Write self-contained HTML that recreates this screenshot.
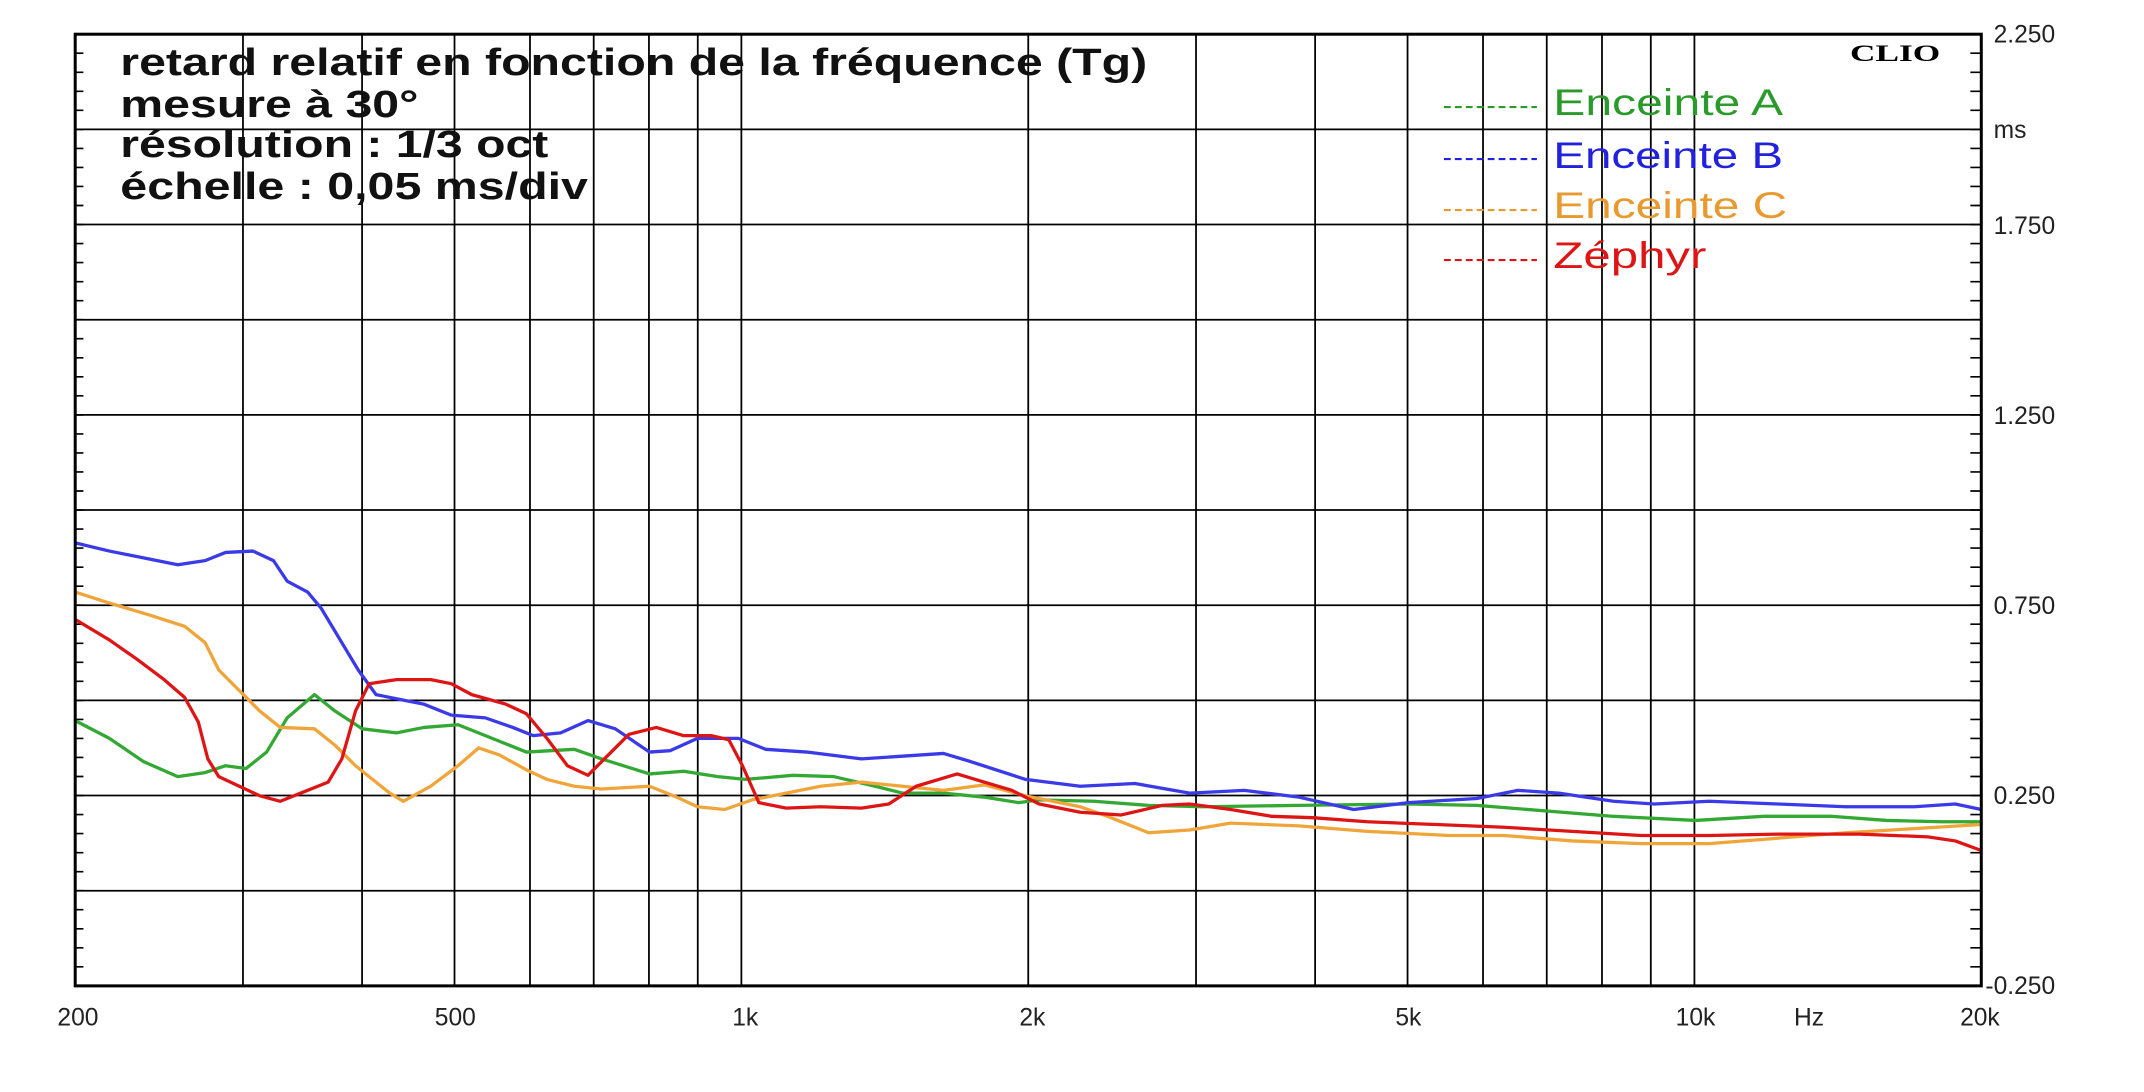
<!DOCTYPE html>
<html><head><meta charset="utf-8"><style>html,body{margin:0;padding:0;background:#fff}svg{display:block}</style></head>
<body>
<svg xmlns="http://www.w3.org/2000/svg" width="2144" height="1092" viewBox="0 0 1568 798.6">
<rect width="1568" height="798.6" fill="#fff"/>
<g stroke="#000" stroke-width="1.3" fill="none">
<line x1="177.7" y1="25" x2="177.7" y2="721"/>
<line x1="264.8" y1="25" x2="264.8" y2="721"/>
<line x1="332.4" y1="25" x2="332.4" y2="721"/>
<line x1="387.6" y1="25" x2="387.6" y2="721"/>
<line x1="434.2" y1="25" x2="434.2" y2="721"/>
<line x1="474.6" y1="25" x2="474.6" y2="721"/>
<line x1="510.3" y1="25" x2="510.3" y2="721"/>
<line x1="542.2" y1="25" x2="542.2" y2="721"/>
<line x1="752" y1="25" x2="752" y2="721"/>
<line x1="874.7" y1="25" x2="874.7" y2="721"/>
<line x1="961.8" y1="25" x2="961.8" y2="721"/>
<line x1="1029.4" y1="25" x2="1029.4" y2="721"/>
<line x1="1084.6" y1="25" x2="1084.6" y2="721"/>
<line x1="1131.2" y1="25" x2="1131.2" y2="721"/>
<line x1="1171.6" y1="25" x2="1171.6" y2="721"/>
<line x1="1207.3" y1="25" x2="1207.3" y2="721"/>
<line x1="1239.2" y1="25" x2="1239.2" y2="721"/>
<line x1="55" y1="94.6" x2="1449" y2="94.6"/>
<line x1="55" y1="164.2" x2="1449" y2="164.2"/>
<line x1="55" y1="233.8" x2="1449" y2="233.8"/>
<line x1="55" y1="303.4" x2="1449" y2="303.4"/>
<line x1="55" y1="373" x2="1449" y2="373"/>
<line x1="55" y1="442.6" x2="1449" y2="442.6"/>
<line x1="55" y1="512.2" x2="1449" y2="512.2"/>
<line x1="55" y1="581.8" x2="1449" y2="581.8"/>
<line x1="55" y1="651.4" x2="1449" y2="651.4"/>
</g>
<line x1="58" y1="24.4" x2="58" y2="721" stroke="#000" stroke-width="6" stroke-dasharray="1.2 12.72"/>
<line x1="1445" y1="24.4" x2="1445" y2="721" stroke="#000" stroke-width="8" stroke-dasharray="1.2 12.72"/>
<g font-family="Liberation Sans, Arial, sans-serif" font-weight="bold" font-size="28" fill="#111">
<text x="88" y="55" textLength="751" lengthAdjust="spacingAndGlyphs">retard relatif en fonction de la fréquence (Tg)</text>
<text x="88" y="85.6" textLength="218" lengthAdjust="spacingAndGlyphs">mesure à 30°</text>
<text x="88" y="114.8" textLength="313" lengthAdjust="spacingAndGlyphs">résolution : 1/3 oct</text>
<text x="88" y="145.5" textLength="342" lengthAdjust="spacingAndGlyphs">échelle : 0,05 ms/div</text>
</g>
<text x="1353" y="44.6" font-family="Liberation Serif, serif" font-weight="bold" font-size="17" textLength="66" lengthAdjust="spacingAndGlyphs" fill="#000">CLIO</text>
<g font-family="Liberation Sans, Arial, sans-serif" font-size="27">
<line x1="1056" y1="78.3" x2="1124" y2="78.3" stroke="#2a9a2a" stroke-width="1.5" stroke-dasharray="5,3"/>
<text x="1136" y="84.1" fill="#2a9a2a" textLength="168" lengthAdjust="spacingAndGlyphs">Enceinte A</text>
<line x1="1056" y1="116.3" x2="1124" y2="116.3" stroke="#2222dd" stroke-width="1.5" stroke-dasharray="5,3"/>
<text x="1136" y="122.9" fill="#2222dd" textLength="168" lengthAdjust="spacingAndGlyphs">Enceinte B</text>
<line x1="1056" y1="153.6" x2="1124" y2="153.6" stroke="#e89a30" stroke-width="1.5" stroke-dasharray="5,3"/>
<text x="1136" y="159.4" fill="#e89a30" textLength="171" lengthAdjust="spacingAndGlyphs">Enceinte C</text>
<line x1="1056" y1="190.2" x2="1124" y2="190.2" stroke="#dd1515" stroke-width="1.5" stroke-dasharray="5,3"/>
<text x="1136" y="196" fill="#dd1515" textLength="112" lengthAdjust="spacingAndGlyphs">Zéphyr</text>
</g>
<g font-family="Liberation Sans, Arial, sans-serif" font-size="18" fill="#222">
<text x="1458" y="31">2.250</text>
<text x="1458" y="101">ms</text>
<text x="1458" y="171">1.750</text>
<text x="1458" y="310">1.250</text>
<text x="1458" y="449">0.750</text>
<text x="1458" y="588">0.250</text>
<text x="1452" y="727">-0.250</text>
</g>
<g font-family="Liberation Sans, Arial, sans-serif" font-size="18" fill="#222" text-anchor="middle">
<text x="57" y="750">200</text>
<text x="333" y="750">500</text>
<text x="545" y="750">1k</text>
<text x="755" y="750">2k</text>
<text x="1030" y="750">5k</text>
<text x="1240" y="750">10k</text>
<text x="1323" y="750">Hz</text>
<text x="1448" y="750">20k</text>
</g>
<g fill="none" stroke-width="2.4" stroke-linejoin="round">
<polyline stroke="#33a833" points="55,527 80,540 105,557 130,568 150,565 165,560 180,562 195,550 210,525 230,508 245,520 265,533 290,536 310,532 335,530 355,538 385,550 420,548 440,555 475,566 500,564 525,568 545,570 580,567 610,568 640,575 660,580 690,580 720,583 745,587 760,585 800,586 840,589 880,590 950,589 1030,588 1080,589 1130,593 1180,597 1240,600 1290,597 1340,597 1380,600 1420,601 1449,601"/>
<polyline stroke="#3a3ae8" points="55,397 80,403 110,409 130,413 150,410 165,404 185,403 200,410 210,425 225,433 235,445 250,470 262,490 275,508 295,512 310,515 330,523 355,525 375,532 390,538 410,536 430,527 450,533 475,550 490,549 510,540 540,540 560,548 590,550 630,555 690,551 710,557 750,570 790,575 830,573 870,580 910,578 950,583 990,592 1030,587 1080,584 1110,578 1140,580 1180,586 1210,588 1250,586 1300,588 1350,590 1400,590 1430,588 1449,592"/>
<polyline stroke="#f0a53a" points="55,433 80,441 110,450 135,458 150,470 160,490 175,505 190,520 205,532 230,533 245,545 260,560 285,580 295,586 315,575 335,560 350,547 365,552 385,563 400,570 420,575 440,577 475,575 495,583 510,590 530,592 550,585 575,580 600,575 630,572 660,575 690,578 720,574 750,582 790,590 810,597 840,609 870,607 900,602 950,604 1000,608 1060,611 1100,611 1150,615 1200,617 1250,617 1300,613 1350,609 1400,606 1449,603"/>
<polyline stroke="#dd1515" points="55,453 80,468 100,482 120,497 135,510 145,528 152,555 160,568 175,575 190,582 205,586 220,580 240,572 250,555 260,520 270,500 290,497 315,497 330,500 345,508 370,515 385,522 400,540 415,560 430,567 445,552 460,537 480,532 500,538 520,538 533,541 543,560 555,587 575,591 600,590 630,591 650,588 670,575 700,566 720,572 740,578 760,588 790,594 820,596 850,589 870,588 900,592 930,597 960,598 1000,601 1050,603 1100,605 1150,608 1200,611 1250,611 1300,610 1360,610 1410,612 1430,615 1449,622"/>
</g>
<rect x="55" y="25" width="1394" height="696" fill="none" stroke="#000" stroke-width="2.2"/>
</svg>
</body></html>
